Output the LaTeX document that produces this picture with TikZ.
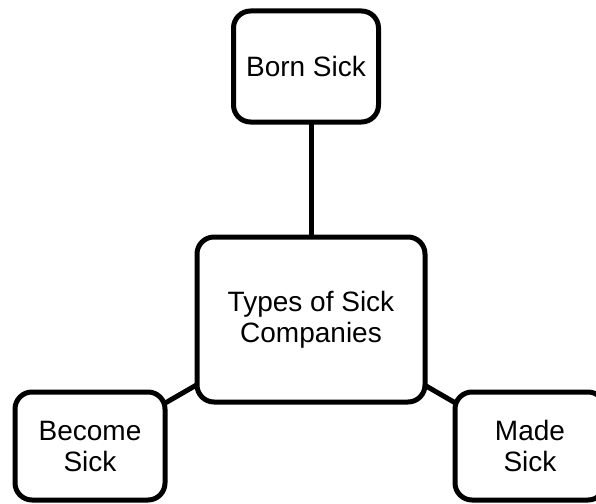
\documentclass[tikz,border=0pt]{standalone}
\usepackage{fontspec}
\setmainfont{Liberation Sans}
\begin{document}
\begin{tikzpicture}[x=1pt,y=-1pt,
  box/.style={draw=black,fill=white,line width=5pt,rounded corners=17pt,
    inner sep=0pt,outer sep=0pt,align=center,
    font=\fontsize{28}{31}\selectfont},
  link/.style={draw=black,line width=5pt}]
\useasboundingbox (0,0) rectangle (596,503);
\clip (0,0) rectangle (596,503);
\node[box,minimum width=145pt,minimum height=111pt] (born) at (306,66.5) {Born Sick};
\node[box,minimum width=228pt,minimum height=165pt] (center) at (311,319.5) {Types of Sick\\Companies};
\node[box,minimum width=150pt,minimum height=108pt] (become) at (90,446) {Become\\Sick};
\node[box,minimum width=150pt,minimum height=108pt] (made) at (530,446) {Made\\Sick};
\draw[link] (center.north) -- (center.north |- born.south);
\draw[link] (center) -- (become);
\draw[link] (center) -- (made);
\end{tikzpicture}
\end{document}
